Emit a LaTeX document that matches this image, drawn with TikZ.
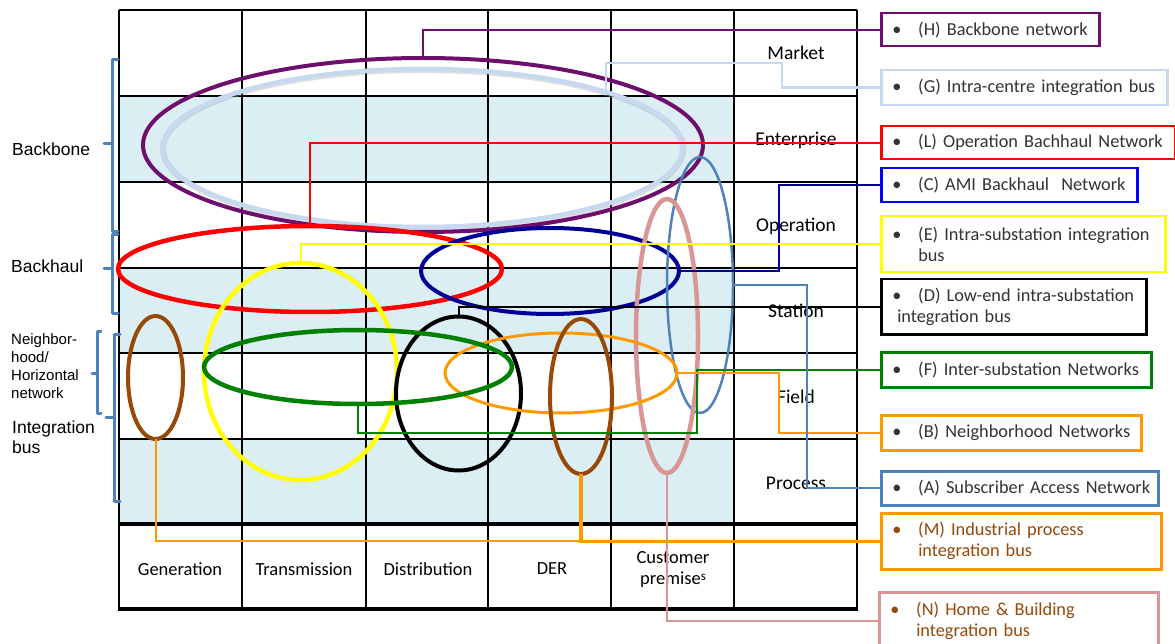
\documentclass[tikz,border=0pt]{standalone}
\usepackage{fontspec}
\setmainfont{Carlito}
\newfontfamily\sidefamily{Liberation Sans}
\newfontfamily\calfamily{Carlito}
\usetikzlibrary{shapes.geometric,calc}

\definecolor{rowfill}{HTML}{DAEEF3}
\definecolor{hpurple}{HTML}{6E0F6E}
\definecolor{glight}{HTML}{C6D9F1}
\definecolor{gshade}{HTML}{A6A6A6}
\definecolor{cnavy}{HTML}{000099}
\definecolor{cblue}{HTML}{0000FF}
\definecolor{eyellow}{HTML}{FFFF00}
\definecolor{fgreen}{HTML}{008000}
\definecolor{borange}{HTML}{FF9900}
\definecolor{mbrown}{HTML}{984807}
\definecolor{npink}{HTML}{D99694}
\definecolor{asteel}{HTML}{4F81BD}
\definecolor{boxtext}{HTML}{333333}

\newcommand\bxfont{\calfamily\fontsize{18.3pt}{21pt}\selectfont}
\newcommand\rlfont{\calfamily\fontsize{19.5pt}{21pt}\selectfont}
\newcommand\colfont{\calfamily\fontsize{18.5pt}{21pt}\selectfont}
\newcommand\sidefont{\sidefamily\fontsize{17.5pt}{20pt}\selectfont}
\newcommand\smallside{\sidefamily\fontsize{15pt}{18pt}\selectfont}
\newcommand\bul{\makebox[26pt][l]{•}}

\tikzset{
  gridline/.style={line width=2pt, black},
  thickgrid/.style={line width=3.5pt, black},
  ring/.style={ellipse, draw, inner sep=0pt, outer sep=0pt},
  link/.style={line width=2pt},
  brace/.style={line width=3pt, asteel, line cap=round, line join=round},
  infobox/.style={draw, line width=2.5pt, fill=white, inner xsep=11pt, inner ysep=0pt,
    align=left, anchor=north west, font=\bxfont, text=boxtext},
  rowlab/.style={font=\rlfont, inner sep=0pt, text=black},
  collab/.style={font=\colfont, inner sep=0pt, text=black, align=center},
  sidelab/.style={font=\sidefont, inner sep=0pt, anchor=west, align=left, text=black},
}

\begin{document}
\begin{tikzpicture}[x=1pt, y=-1pt]
\clip (0,0) rectangle (1175,644);
\fill[white] (0,0) rectangle (1175,644);

% shaded rows of the matrix
\fill[rowfill] (119,96) rectangle (734,182);
\fill[rowfill] (119,268) rectangle (734,353);
\fill[rowfill] (119,439) rectangle (734,524);

% matrix lines
\foreach \x in {119,242,366,488,611,734,857}
  \draw[gridline] (\x,10) -- (\x,609);
\foreach \y in {10,96,182,268,353,439}
  \draw[gridline] (119,\y) -- (857,\y);
\draw[thickgrid] (118,524) -- (858,524);
\draw[thickgrid] (118,609) -- (858,609);

% row labels
\node[rowlab] (lmarket) at (796,53) {Market};
\node[rowlab] (lenter) at (796,140) {Enterprise};
\node[rowlab] (loper) at (796,226) {Operation};
\node[rowlab] (lstation) at (796,311) {Station};
\node[rowlab] (lfield) at (796,397) {Field};
\node[rowlab] (lprocess) at (796,483) {Process};

% column labels
\node[collab] (cgen) at (180,569) {Generation};
\node[collab] (ctrans) at (304,569) {Transmission};
\node[collab] (cdist) at (428,569) {Distribution};
\node[collab] (cder) at (552,569) {DER};
\node[collab] (ccust) at (673,569) {Customer\\premise\raisebox{4pt}{\fontsize{13pt}{13pt}\selectfont s}};

% side braces
\draw[brace] (118,60) -- (112,60) -- (112,232) -- (118,232);
\draw[brace] (112,144) -- (104,144);
\draw[brace] (118,235) -- (112,235) -- (112,313) -- (118,313);
\draw[brace] (112,269) -- (104,269);
\draw[brace] (120,334) -- (114,334) -- (114,501) -- (120,501);
\draw[brace] (114,417) -- (106,417);
\draw[brace] (101,331) -- (97,331) -- (97,413) -- (101,413);
\draw[brace] (97,373) -- (92,373);

% side labels
\node[sidelab] (sbackbone) at (12,149) {Backbone};
\node[sidelab] (sbackhaul) at (11,266) {Backhaul};
\node[sidelab, font=\smallside] (sneigh) at (11,366) {Neighbor-\\hood/\\Horizontal\\network};
\node[sidelab] (sinteg) at (12,437) {Integration\\bus};

% network rings
\draw[gshade, line width=6pt, opacity=0.35] (423,149) ellipse [x radius=260pt, y radius=79pt];
\node[ring, draw=glight, line width=4.5pt, minimum width=520pt, minimum height=158pt] (G) at (422.5,148) {};
\node[ring, draw=hpurple, line width=4pt, minimum width=560pt, minimum height=174pt] (H) at (423,145) {};
\node[ring, draw=red, line width=4.5pt, minimum width=384pt, minimum height=86pt] (L) at (310,269) {};
\node[ring, draw=cnavy, line width=4pt, minimum width=258pt, minimum height=86pt] (C) at (550,271) {};
\node[ring, draw=asteel, line width=2.5pt, minimum width=66pt, minimum height=256pt] (A) at (700,285) {};
\node[ring, draw=npink, line width=4.5pt, minimum width=62pt, minimum height=274pt] (N) at (667,336) {};
\node[ring, draw=eyellow, line width=4.5pt, minimum width=193pt, minimum height=217pt] (E) at (300.5,371.5) {};
\node[ring, draw=black, line width=4pt, minimum width=125pt, minimum height=154pt] (D) at (458.5,393.5) {};
\node[ring, draw=borange, line width=3pt, minimum width=232pt, minimum height=80pt] (B) at (561,373) {};
\node[ring, draw=fgreen, line width=4.5pt, minimum width=308pt, minimum height=74pt] (F) at (358,367) {};
\node[ring, draw=mbrown, line width=4pt, minimum width=55pt, minimum height=123pt] (Mgen) at (155.5,377.5) {};
\node[ring, draw=mbrown, line width=4pt, minimum width=62pt, minimum height=155pt] (Mder) at (581,396.5) {};

% legend boxes
\node[infobox, draw=hpurple, minimum width=218pt, minimum height=33pt, text width=196pt] (Hbox) at (880,12)
  {\bul\mbox{(H) Backbone network}};
\node[infobox, draw=glight, minimum width=286pt, minimum height=35pt, text width=264pt] (Gbox) at (880,69)
  {\bul\mbox{(G) Intra-centre integration bus}};
\node[infobox, draw=red, minimum width=294pt, minimum height=33pt, text width=272pt] (Lbox) at (880,125)
  {\bul\mbox{(L) Operation Bachhaul Network}};
\node[infobox, draw=cblue, minimum width=256pt, minimum height=34pt, text width=234pt] (Cbox) at (880,167)
  {\bul\mbox{(C) AMI Backhaul\ \ Network}};
\node[infobox, draw=eyellow, minimum width=284pt, minimum height=56pt, text width=262pt] (Ebox) at (880,215)
  {\bul\mbox{(E) Intra-substation integration}\\\hspace*{26pt}bus};
\node[infobox, draw=black, minimum width=265pt, minimum height=55pt, text width=243pt] (Dbox) at (880,278)
  {\bul\mbox{(D) Low-end intra-substation}\\\hspace*{5pt}\mbox{integration bus}};
\node[infobox, draw=fgreen, minimum width=270pt, minimum height=35pt, text width=248pt] (Fbox) at (880,351)
  {\bul\mbox{(F) Inter-substation Networks}};
\node[infobox, draw=borange, minimum width=260pt, minimum height=35pt, text width=238pt] (Bbox) at (880,414)
  {\bul\mbox{(B) Neighborhood Networks}};
\node[infobox, draw=asteel, minimum width=277pt, minimum height=34pt, text width=255pt] (Abox) at (880,470)
  {\bul\mbox{(A) Subscriber Access Network}};
\node[infobox, draw=borange, text=mbrown, minimum width=280pt, minimum height=56pt, text width=258pt] (Mbox) at (880,512)
  {\bul\mbox{(M) Industrial process}\\\hspace*{26pt}\mbox{integration bus}};
\node[infobox, draw=npink, text=mbrown, minimum width=279pt, minimum height=58pt, text width=257pt] (Nbox) at (878,591)
  {\bul\mbox{(N) Home \& Building}\\\hspace*{26pt}\mbox{integration bus}};

% connectors from rings to their legend boxes
\draw[link, hpurple] (H.north) |- (Hbox.west);
\draw[link, glight, line width=2.5pt] (G.17) |- (782,63) |- (Gbox.west);
\draw[link, red] (L.north) |- (Lbox.west);
\draw[link, cnavy, line width=2.5pt] (C.east) -- ++(100,0) |- (Cbox.west);
\draw[link, eyellow] (E.north) |- (Ebox.west);
\draw[link, black] (D.north) |- (Dbox.west);
\draw[link, fgreen] (F.south) -- ++(0,29) -| ($(Fbox.west)+(-183,0)$) -- (Fbox.west);
\draw[link, borange] (B.east) -- ++(102,0) |- (Bbox.west);
\draw[link, asteel] (A.east) -- ++(74,0) |- (Abox.west);
\draw[link, borange, line width=3.5pt] (Mder.south) |- (Mbox.west);
\draw[link, borange] (Mgen.south) |- (Mder.south |- Mbox.west);
\draw[link, npink] (N.south) |- (Nbox.west);
\end{tikzpicture}
\end{document}
